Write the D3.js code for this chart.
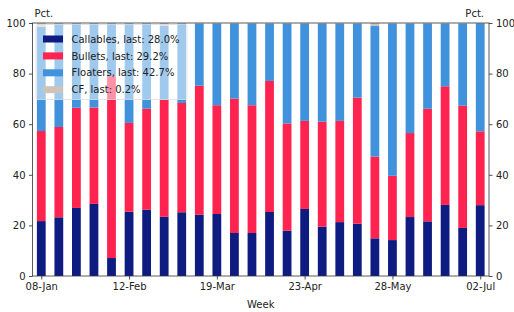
<!DOCTYPE html>
<html>
<head>
<meta charset="utf-8">
<script src="https://cdn.jsdelivr.net/npm/d3@7"></script>
<style>
  body { margin: 0; background: #fff; }
  svg { display: block; font-family: "DejaVu Sans", sans-serif; }
</style>
</head>
<body>
<svg width="514" height="312"></svg>
<script>
const width = 514
const height = 312

// Data
const weeks = ["08-Jan","15-Jan","22-Jan","29-Jan","05-Feb","12-Feb","19-Feb","26-Feb","05-Mar","12-Mar",
    "19-Mar","26-Mar","02-Apr","09-Apr","16-Apr","23-Apr","30-Apr","07-May","14-May","21-May",
    "28-May","04-Jun","11-Jun","18-Jun","25-Jun","02-Jul"]
const tickLabels = ["08-Jan","12-Feb","19-Mar","23-Apr","28-May","02-Jul"]
const yTicks = [0, 20, 40, 60, 80, 100]

const callables = [21.7,23.2,26.9,28.5,7.1,25.4,26.2,23.4,25.2,24.2,24.5,17.0,17.0,25.3,17.9,26.5,19.5,21.3,20.7,14.9,14.2,23.3,21.6,28.1,19.0,28.0]
const bullets = [35.6,35.7,39.6,38.1,71.9,35.1,39.9,46.3,43.2,51.0,43.0,53.1,50.5,51.8,42.4,34.8,41.5,40.0,49.8,32.3,25.4,33.2,44.5,46.9,48.3,29.2]
const floaters = [41.2,40.9,33.3,33.2,20.8,39.3,33.7,29.3,31.4,24.6,32.3,29.7,32.3,22.7,39.5,38.5,38.8,38.5,29.3,51.6,60.2,43.3,33.7,24.8,32.5,42.7]
const cf = [1.5,0.2,0.2,0.2,0.2,0.2,0.2,1.0,0.4,0.2,0.2,0.2,0.2,0.2,0.2,0.2,0.2,0.2,0.2,1.2,0.2,0.2,0.2,0.2,0.2,0.2]

const seriesNames = ["Callables", "Bullets", "Floaters", "CF"]
const seriesValues = [callables, bullets, floaters, cf]
const seriesColors = ["#0e1b80", "#ff244f", "#4192dc", "#ccc4b9"]

// Layout
const plot = { left: 32.5, right: 489, top: 23, bottom: 276 }

const x = d3.scaleLinear().domain([-0.5, weeks.length - 0.5]).range([plot.left, plot.right])
const y = d3.scaleLinear().domain([0, 100]).range([plot.bottom, plot.top])
const barWidth = (x(1) - x(0)) * 0.5

const svg = d3.select("svg")

// Stack the series
const rows = weeks.map((w, i) => {
    const row = { week: w, index: i }
    seriesNames.forEach((name, k) => { row[name] = seriesValues[k][i] })
    return row
})
const stacked = d3.stack().keys(seriesNames)(rows)

svg.append("g")
    .selectAll("g")
    .data(stacked)
    .enter()
    .append("g")
    .attr("fill", (d, k) => seriesColors[k])
    .selectAll("rect")
    .data(d => d)
    .enter()
    .append("rect")
    .attr("x", d => x(d.data.index) - barWidth / 2)
    .attr("width", barWidth)
    .attr("y", d => y(Math.min(100, d[1])))
    .attr("height", d => Math.max(0, y(d[0]) - y(Math.min(100, d[1]))))

// Axes
const tickIndices = tickLabels.map(t => weeks.indexOf(t))

const xAxis = d3.axisBottom(x)
    .tickValues(tickIndices)
    .tickFormat(i => weeks[i])
    .tickSize(3.5)
    .tickPadding(3.5)

const yLeft = d3.axisLeft(y).tickValues(yTicks).tickSize(3.5).tickPadding(3.5)
const yRight = d3.axisRight(y).tickValues(yTicks).tickSize(3.5).tickPadding(3.5)

function styleAxis(g) {
    g.select(".domain").remove()
    g.selectAll(".tick line").attr("stroke", "#222").attr("stroke-width", 0.8)
    g.selectAll(".tick text")
        .attr("fill", "#222")
        .attr("font-size", 10)
        .attr("font-family", "DejaVu Sans, sans-serif")
}

svg.append("g").attr("transform", `translate(0,${plot.bottom})`).call(xAxis).call(styleAxis)
svg.append("g").attr("transform", `translate(${plot.left},0)`).call(yLeft).call(styleAxis)
svg.append("g").attr("transform", `translate(${plot.right},0)`).call(yRight).call(styleAxis)

// Frame
svg.append("rect")
    .attr("x", plot.left)
    .attr("y", plot.top)
    .attr("width", plot.right - plot.left)
    .attr("height", plot.bottom - plot.top)
    .attr("fill", "none")
    .attr("stroke", "#333")
    .attr("stroke-width", 0.8)

// Titles
svg.append("text")
    .attr("x", plot.left + 2)
    .attr("y", 16.5)
    .attr("font-size", 10)
    .attr("fill", "#222")
    .text("Pct.")

svg.append("text")
    .attr("x", plot.right - 5)
    .attr("y", 16.5)
    .attr("text-anchor", "end")
    .attr("font-size", 10)
    .attr("fill", "#222")
    .text("Pct.")

svg.append("text")
    .attr("x", (plot.left + plot.right) / 2)
    .attr("y", 308)
    .attr("text-anchor", "middle")
    .attr("font-size", 10)
    .attr("fill", "#222")
    .text("Week")

// Legend
const legend = svg.append("g").attr("transform", "translate(36,24.5)")

legend.append("rect")
    .attr("width", 151)
    .attr("height", 75)
    .attr("rx", 2)
    .attr("fill", "#fff")
    .attr("fill-opacity", 0.5)
    .attr("stroke", "#ddd")
    .attr("stroke-width", 0.8)

const legendItems = legend.selectAll("g.item")
    .data(seriesNames)
    .enter()
    .append("g")
    .attr("class", "item")
    .attr("transform", (d, k) => `translate(0,${14.5 + k * 16.9})`)

legendItems.append("rect")
    .attr("x", 7)
    .attr("y", -3.5)
    .attr("width", 20)
    .attr("height", 7)
    .attr("fill", (d, k) => seriesColors[k])

legendItems.append("text")
    .attr("x", 35.5)
    .attr("y", 3.6)
    .attr("font-size", 10)
    .attr("fill", "#222")
    .text((d, k) => `${d}, last: ${seriesValues[k][weeks.length - 1].toFixed(1)}%`)
</script>
</body>
</html>
